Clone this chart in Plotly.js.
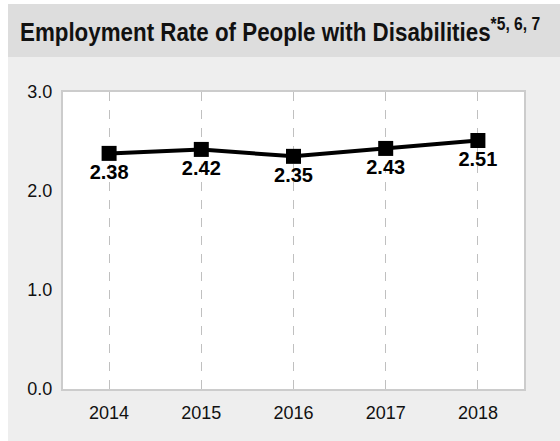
<!DOCTYPE html>
<html><head><meta charset="utf-8">
<script src="https://cdn.plot.ly/plotly-3.0.1.min.js"></script>
<style>
html,body{margin:0;padding:0;background:#fff;}
#bg{position:absolute;left:8px;top:4px;width:552px;height:437px;background:#eeeeee;}
#hd{position:absolute;left:8px;top:4px;width:552px;height:53px;background:#dddddd;}
#chart{position:absolute;left:0;top:0;width:560px;height:441px;}
</style></head>
<body>
<div id="bg"></div><div id="hd"></div>
<div id="chart"></div>
<script>
const years = [2014, 2015, 2016, 2017, 2018];
const rates = [2.38, 2.42, 2.35, 2.43, 2.51];
const labels = rates.map(v => v.toFixed(2));

Plotly.newPlot('chart', [{
  x: years, y: rates, text: labels,
  type: 'scatter', mode: 'lines+markers+text',
  textposition: 'bottom center',
  textfont: {family: 'Liberation Sans, Arial, sans-serif', size: 20, color: '#000', weight: 'bold'},
  line: {color: '#000', width: 4},
  marker: {symbol: 'square', size: 15, color: '#000'},
  hoverinfo: 'skip', cliponaxis: false
}], {
  width: 560, height: 441,
  margin: {l: 63, r: 36, t: 92, b: 52},
  paper_bgcolor: 'rgba(0,0,0,0)', plot_bgcolor: '#ffffff',
  showlegend: false,
  title: {
    text: 'Employment Rate of People with Disabilities<sup>*5, 6, 7</sup>',
    x: 20/560, xanchor: 'left', xref: 'container',
    y: 0.927, yanchor: 'middle', yref: 'container',
    font: {family: 'Liberation Sans, Arial, sans-serif', size: 26, color: '#111', weight: 'bold'}
  },
  xaxis: {
    range: [2013.5, 2018.5], tickvals: years, ticktext: years.map(String),
    showgrid: true, griddash: 'dash', gridcolor: '#c0c0c0', gridwidth: 1,
    showline: true, mirror: true, linecolor: '#cccccc', linewidth: 2,
    zeroline: false, ticks: '', ticklabelstandoff: 6,
    tickfont: {family: 'Liberation Sans, Arial, sans-serif', size: 18, color: '#111'}
  },
  yaxis: {
    range: [0, 3], tickvals: [0, 1, 2, 3], ticktext: ['0.0', '1.0', '2.0', '3.0'],
    showgrid: false, zeroline: false,
    showline: true, mirror: true, linecolor: '#cccccc', linewidth: 2,
    ticks: '', ticklabelstandoff: 5,
    tickfont: {family: 'Liberation Sans, Arial, sans-serif', size: 18, color: '#111'}
  }
}, {staticPlot: true}).then(gd => {
  const t = gd.querySelector('text.gtitle');
  if (t) {
    const s = 0.86, x0 = 20;
    const prev = t.getAttribute('transform') || '';
    t.setAttribute('transform', prev + ` translate(${x0 * (1 - s)},0) scale(${s},1)`);
  }
});
</script>
</body></html>
